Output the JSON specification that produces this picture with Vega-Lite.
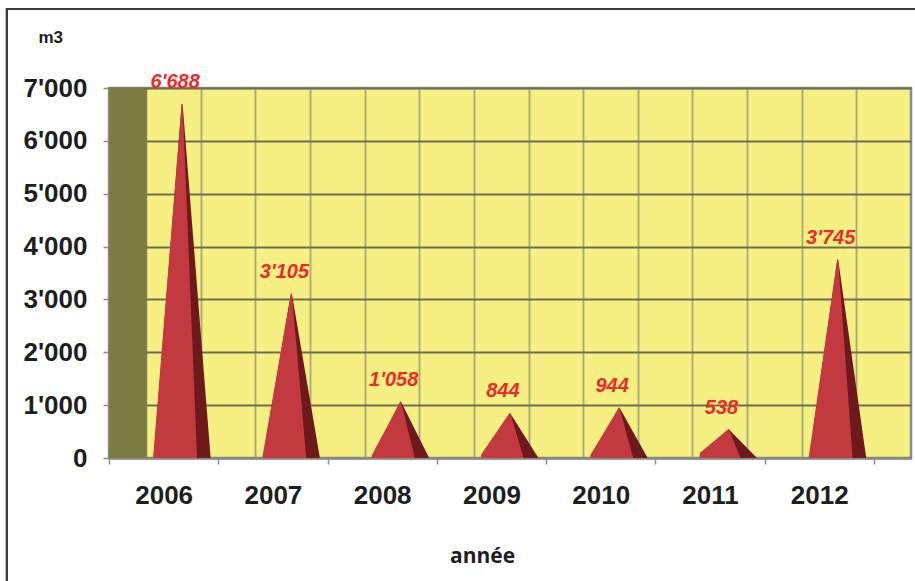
{
  "$schema": "https://vega.github.io/schema/vega-lite/v6.json",
  "autosize": "none",
  "width": 802,
  "height": 370,
  "padding": {"left": 109, "top": 88, "right": 4, "bottom": 123},
  "background": "white",
  "data": {
    "values": [
      {"year": 2006, "m3": 6688},
      {"year": 2007, "m3": 3105},
      {"year": 2008, "m3": 1058},
      {"year": 2009, "m3": 844},
      {"year": 2010, "m3": 944},
      {"year": 2011, "m3": 538},
      {"year": 2012, "m3": 3745}
    ]
  },
  "resolve": {"scale": {"x": "independent", "size": "independent"}, "axis": {"x": "independent"}},
  "layer": [
    {
      "mark": {"type": "rect", "fill": "#7b7b42", "opacity": 0.9},
      "encoding": {
        "x": {"datum": 2005.5, "type": "quantitative",
          "scale": {"domain": [2005.5, 2012.84], "nice": false, "zero": false},
          "axis": {"orient": "top", "grid": true, "labels": false, "ticks": false, "domain": false, "title": null,
            "gridColor": "#a9a67a", "gridWidth": 1.8,
            "values": [2005.84, 2006.34, 2006.84, 2007.34, 2007.84, 2008.34, 2008.84, 2009.34, 2009.84, 2010.34, 2010.84, 2011.34, 2011.84, 2012.34]}},
        "x2": {"datum": 2005.84},
        "y": {"datum": 0, "type": "quantitative", "title": "m3",
          "scale": {"domain": [0, 7000], "nice": false},
          "axis": {"values": [0, 1000, 2000, 3000, 4000, 5000, 6000, 7000], "format": ",d"}},
        "y2": {"datum": 7000}
      }
    },
    {
      "transform": [
        {"stack": "m3", "groupby": ["year"], "as": ["base", "top"]},
        {"fold": ["base", "top"], "as": ["end", "level"]}
      ],
      "mark": {"type": "trail", "color": "#6e1a1d", "xOffset": 18.5, "clip": true},
      "encoding": {
        "x": {"field": "year", "type": "ordinal", "axis": null,
          "scale": {"type": "band", "paddingInner": 0, "paddingOuter": 0.17, "align": 0}},
        "y": {"field": "level", "type": "quantitative", "title": "m3",
          "axis": {"values": [0, 1000, 2000, 3000, 4000, 5000, 6000, 7000], "format": ",d"}},
        "detail": {"field": "year", "type": "nominal"},
        "order": {"field": "end", "type": "nominal"},
        "size": {"field": "end", "type": "ordinal", "legend": null,
          "scale": {"domain": ["base", "top"], "range": [57, 0]}}
      }
    },
    {
      "transform": [
        {"stack": "m3", "groupby": ["year"], "as": ["base", "top"]},
        {"fold": ["base", "top"], "as": ["end", "level"]}
      ],
      "mark": {"type": "trail", "color": "#c23a40", "clip": true},
      "encoding": {
        "x": {"field": "year", "type": "ordinal", "axis": null,
          "scale": {"type": "band", "paddingInner": 0, "paddingOuter": 0.17, "align": 0}},
        "xOffset": {"field": "end", "type": "nominal",
          "scale": {"type": "point", "domain": ["base", "top"], "range": [66.1, 73.1], "padding": 0}},
        "y": {"field": "level", "type": "quantitative", "title": "m3",
          "axis": {"values": [0, 1000, 2000, 3000, 4000, 5000, 6000, 7000], "format": ",d"}},
        "detail": {"field": "year", "type": "nominal"},
        "order": {"field": "end", "type": "nominal"},
        "size": {"field": "end", "type": "ordinal", "legend": null,
          "scale": {"domain": ["base", "top"], "range": [44, 0]}}
      }
    },
    {
      "mark": {"type": "text", "dx": 11.5, "dy": -16, "baseline": "alphabetic", "align": "center",
        "font": "Liberation Sans", "fontStyle": "italic", "fontWeight": "bold", "fontSize": 20, "color": "#ee2a2a"},
      "encoding": {
        "x": {"field": "year", "type": "ordinal",
          "scale": {"type": "band", "paddingInner": 0, "paddingOuter": 0.17, "align": 0},
          "axis": {
            "orient": "bottom",
            "labelAngle": 0,
            "tickBand": "extent",
            "grid": false,
            "title": "année",
            "titleX": 373, "titleY": 104, "titleAlign": "center", "titleBaseline": "alphabetic", "titleAnchor": null
          }},
        "y": {"field": "m3", "type": "quantitative", "title": "m3",
          "axis": {"values": [0, 1000, 2000, 3000, 4000, 5000, 6000, 7000], "format": ",d"}},
        "text": {"field": "m3", "type": "quantitative", "format": ","}
      }
    },
    {
      "mark": {"type": "rect", "clip": false, "filled": false, "stroke": "#3c3c3c", "strokeWidth": 2},
      "encoding": {
        "x": {"datum": 2004.566, "type": "quantitative", "axis": null,
          "scale": {"domain": [2005.5, 2012.84], "nice": false, "zero": false}},
        "x2": {"datum": 2013.3},
        "y": {"datum": 8494.6, "type": "quantitative", "title": "m3",
          "axis": {"values": [0, 1000, 2000, 3000, 4000, 5000, 6000, 7000], "format": ",d"}},
        "y2": {"datum": -2700}
      }
    }
  ],
  "config": {
    "locale": {"number": {"decimal": ".", "thousands": "'", "grouping": [3], "currency": ["", ""]}},
    "view": {"fill": "#f5f081", "stroke": "#8c8c8c", "strokeWidth": 2.5},
    "axis": {
      "labelFont": "Liberation Sans", "labelFontWeight": "bold", "labelFontSize": 26, "labelColor": "#1e1e1e",
      "tickColor": "#8c8c8c", "tickWidth": 1.5, "tickSize": 6,
      "domainColor": "#8c8c8c", "domainWidth": 2,
      "titleColor": "#1e1e1e"
    },
    "axisX": {
      "labelPadding": 18, "labelFlush": false, "labelOverlap": false,
      "titleFont": "Open Sans", "titleFontSize": 21, "titleFontWeight": "bold"
    },
    "axisY": {
      "labelPadding": 16,
      "grid": true, "gridColor": "#6e6e55", "gridWidth": 2,
      "titleFont": "Liberation Sans", "titleFontSize": 17, "titleFontWeight": "bold",
      "titleAngle": 0, "titleX": -71, "titleY": -46, "titleAlign": "left", "titleBaseline": "alphabetic"
    }
  }
}
